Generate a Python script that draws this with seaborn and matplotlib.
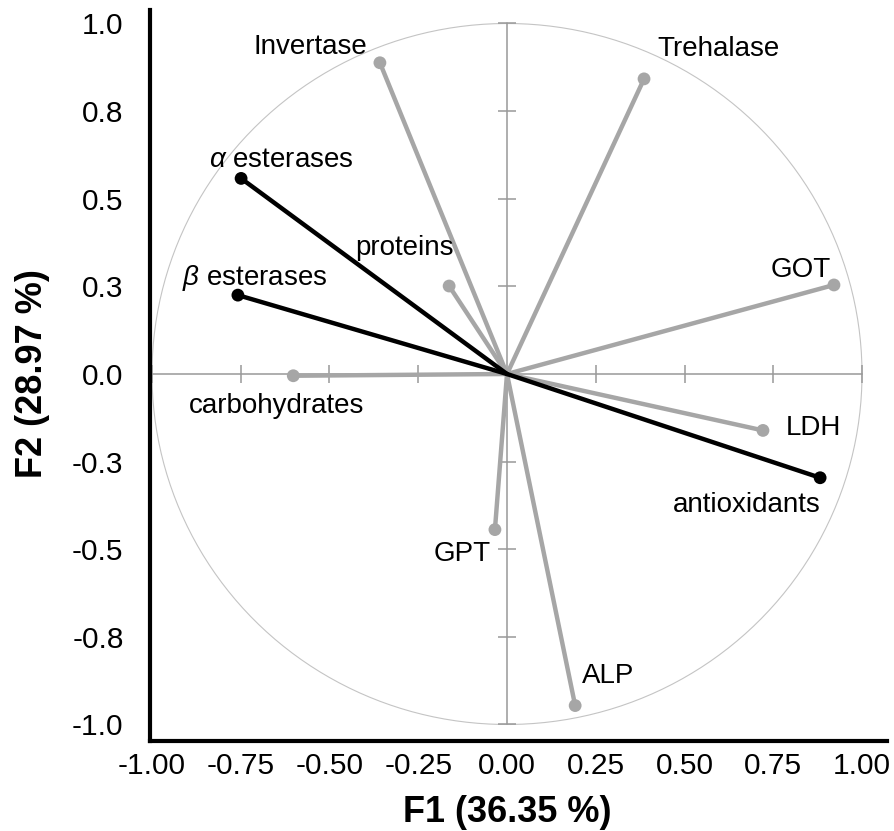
import numpy as np
import pandas as pd
import matplotlib
matplotlib.use("Agg")
import matplotlib.pyplot as plt
import matplotlib.transforms as mtransforms
import seaborn as sns

# ---- data ----
variables = ["Invertase", "Trehalase", r"$\alpha$ esterases", r"$\beta$ esterases",
             "proteins", "GOT", "carbohydrates", "LDH", "antioxidants", "GPT", "ALP"]
f1 = [-0.358, 0.386, -0.749, -0.758, -0.163, 0.921, -0.602, 0.721, 0.882, -0.034, 0.192]
f2 = [0.888, 0.842, 0.558, 0.225, 0.251, 0.254, -0.005, -0.161, -0.296, -0.444, -0.946]
groups = ["gray", "gray", "black", "black", "gray", "gray", "gray", "gray", "black", "gray", "gray"]

xtick_vals = [-1.0, -0.75, -0.5, -0.25, 0.0, 0.25, 0.5, 0.75, 1.0]
xtick_labels = ["-1.00", "-0.75", "-0.50", "-0.25", "0.00", "0.25", "0.50", "0.75", "1.00"]
ytick_vals = [-1.0, -0.75, -0.5, -0.25, 0.0, 0.25, 0.5, 0.75, 1.0]
ytick_labels = ["-1.0", "-0.8", "-0.5", "-0.3", "0.0", "0.3", "0.5", "0.8", "1.0"]
xlabel = "F1 (36.35 %)"
ylabel = "F2 (28.97 %)"

# label anchor positions (left edge, baseline) in data units
label_x = [-0.713, 0.423, -0.839, -0.916, -0.428, 0.743, -0.896, 0.786, 0.468, -0.206, 0.210]
label_y = [0.913, 0.907, 0.590, 0.254, 0.340, 0.276, -0.111, -0.174, -0.393, -0.533, -0.881]

# ---- style ----
sns.set_theme(style="white")
plt.rcParams["font.family"] = ["Liberation Sans", "DejaVu Sans"]
plt.rcParams["mathtext.fontset"] = "custom"
plt.rcParams["mathtext.it"] = "Liberation Sans:italic"
plt.rcParams["mathtext.rm"] = "Liberation Sans"
plt.rcParams["text.color"] = "black"
plt.rcParams["axes.labelcolor"] = "black"

palette = {"gray": "#a6a6a6", "black": "#000000"}

W, H = 894, 831
fig = plt.figure(figsize=(W / 100, H / 100), dpi=100)
ax = fig.add_axes([150 / W, 1 - 741 / H, (887 - 150) / W, (741 - 10) / H])
ax.set_xlim(-1.0056, 1.0704)
ax.set_ylim(-1.0471, 1.0385)

# unit circle
t = np.linspace(0, 2 * np.pi, 400)
ax.plot(np.cos(t), np.sin(t), color="#c4c4c4", lw=0.8, zorder=1)

# inner cross with ticks
cross_c = "#999999"
ax.plot([-1, 1], [0, 0], color=cross_c, lw=1.1, zorder=2)
ax.plot([0, 0], [-1, 1], color=cross_c, lw=1.1, zorder=2)
tick_h = 9 / 350.5
tick_w = 9 / 355
ax.vlines([v for v in xtick_vals if v != 0], -tick_h, tick_h, color=cross_c, lw=1.1, zorder=2)
ax.hlines([v for v in ytick_vals if v != 0], -tick_w, tick_w, color=cross_c, lw=1.1, zorder=2)

# vectors
rows = []
for v, x, y, g in zip(variables, f1, f2, groups):
    rows.append(dict(variable=v, F1=0.0, F2=0.0, group=g))
    rows.append(dict(variable=v, F1=x, F2=y, group=g))
df_lines = pd.DataFrame(rows)
df_pts = pd.DataFrame(dict(variable=variables, F1=f1, F2=f2, group=groups))

sns.lineplot(data=df_lines, x="F1", y="F2", hue="group", hue_order=["gray", "black"],
             units="variable", estimator=None, sort=False, palette=palette,
             linewidth=3.2, legend=False, ax=ax, zorder=3)
sns.scatterplot(data=df_pts, x="F1", y="F2", hue="group", hue_order=["gray", "black"],
                palette=palette, s=85, edgecolor="none", linewidth=0, legend=False,
                ax=ax, zorder=4)

for name, lx, ly in zip(variables, label_x, label_y):
    ax.text(lx, ly, name, fontsize=20, ha="left", va="baseline", color="black", zorder=5)

# axes styling
for s in ["top", "right"]:
    ax.spines[s].set_visible(False)
for s in ["left", "bottom"]:
    ax.spines[s].set_color("black")
    ax.spines[s].set_linewidth(3)
ax.set_xticks(xtick_vals)
ax.set_xticklabels(xtick_labels)
ax.set_yticks(ytick_vals)
ax.set_yticklabels(ytick_labels)
ax.tick_params(axis="x", length=0, pad=8, labelsize=21.5, colors="black")
ax.tick_params(axis="y", length=0, pad=19, labelsize=21.5, colors="black")
ax.grid(False)

ax.set_xlabel(xlabel, fontsize=26, fontweight="bold", color="black")
ax.set_ylabel(ylabel, fontsize=26, fontweight="bold", color="black")
ax.xaxis.set_label_coords(0.0, 1 - 821.7 / H,
                          transform=mtransforms.blended_transform_factory(ax.transData, fig.transFigure))
ax.xaxis.label.set_va("baseline")
ax.yaxis.set_label_coords(41.7 / W, 0.0,
                          transform=mtransforms.blended_transform_factory(fig.transFigure, ax.transData))
ax.yaxis.label.set_va("baseline")

fig.savefig("out.png", dpi=100)
